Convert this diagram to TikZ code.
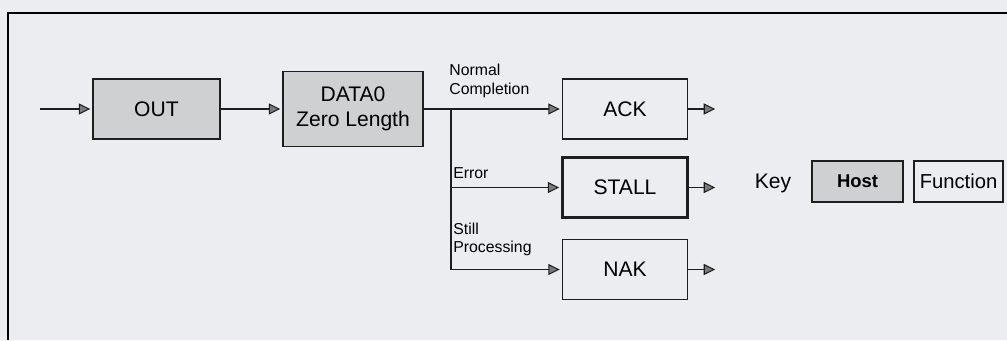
\documentclass[tikz,border=0pt]{standalone}
\usepackage{fontspec}
\setmainfont{Liberation Sans}
\usepackage{xcolor}
\definecolor{papier}{HTML}{ECEDF1}
\definecolor{hote}{HTML}{CFD0D2}
\definecolor{trait}{HTML}{1E1E1E}
\definecolor{pointe}{HTML}{7A7A7C}
\usetikzlibrary{positioning,arrows.meta}

\begin{document}
\begin{tikzpicture}[font=\fontsize{12}{14}\selectfont,
  hostbox/.style={draw=trait,fill=hote,line width=1.1pt,minimum width=2.54cm,minimum height=1.2cm,align=center},
  funcbox/.style={draw=trait,fill=papier,line width=1.1pt,minimum width=2.5cm,minimum height=1.2cm},
  lien/.style={trait,line width=0.8pt},
  fleche/.style={lien,-{Triangle[length=2.3mm,width=2.2mm,fill=pointe,line width=0.6pt]},shorten >=1pt},
  etiq/.style={font=\fontsize{9}{10.5}\selectfont,align=left,anchor=west,inner sep=0pt}
]
\useasboundingbox[fill=papier] (0,0) rectangle (20.14,-6.8);
% ---- cadre ----
\draw[line width=1pt] (0.16,-6.8) |- (20.14,-0.26);
% ---- paquets hote ----
\coordinate (entree) at (0.8,-2.18);
\node[hostbox] (out) at (3.13,-2.18) {OUT};
\node[hostbox,minimum width=2.8cm,minimum height=1.5cm] (data) at (7.06,-2.18) {DATA0\\Zero Length};
\draw[fleche] (entree) -- (out);
\draw[fleche] (out) -- (data);
% ---- reponses fonction ----
\foreach \nom/\y/\txt/\ep in {ack/-2.18/ACK/1.1pt, stall/-3.75/STALL/1.7pt, nak/-5.39/NAK/1.1pt}{
  \node[funcbox,line width=\ep] (\nom) at (12.5,\y) {\txt};
  \coordinate (\nom-fin) at (14.34,\y);
  \draw[fleche] (\nom) -- (\nom-fin);
}
% ---- branches ----
\coordinate (noeud) at (9.02,-2.18);
\draw[lien] (data) -- (noeud);
\draw[lien] (noeud) -- (noeud |- nak);
\draw[fleche] (noeud) -- (ack);
\draw[fleche] (noeud |- stall) -- (stall);
\draw[fleche] (noeud |- nak) -- (nak);
\node[etiq] (normal) at (8.98,-1.62) {Normal\\Completion};
\node[etiq] (erreur) at (9.06,-3.46) {Error};
\node[etiq] (encours) at (9.06,-4.79) {Still\\Processing};
% ---- legende ----
\node (cle) at (15.46,-3.66) {Key};
\node[hostbox,minimum width=1.82cm,minimum height=0.82cm,font=\bfseries\fontsize{10.5}{12}\selectfont] (hostkey) at (17.15,-3.63) {Host};
\node[funcbox,minimum width=1.78cm,minimum height=0.82cm,inner xsep=2pt,font=\fontsize{11.5}{13}\selectfont] (funckey) at (19.17,-3.63) {Function};
\end{tikzpicture}
\end{document}
